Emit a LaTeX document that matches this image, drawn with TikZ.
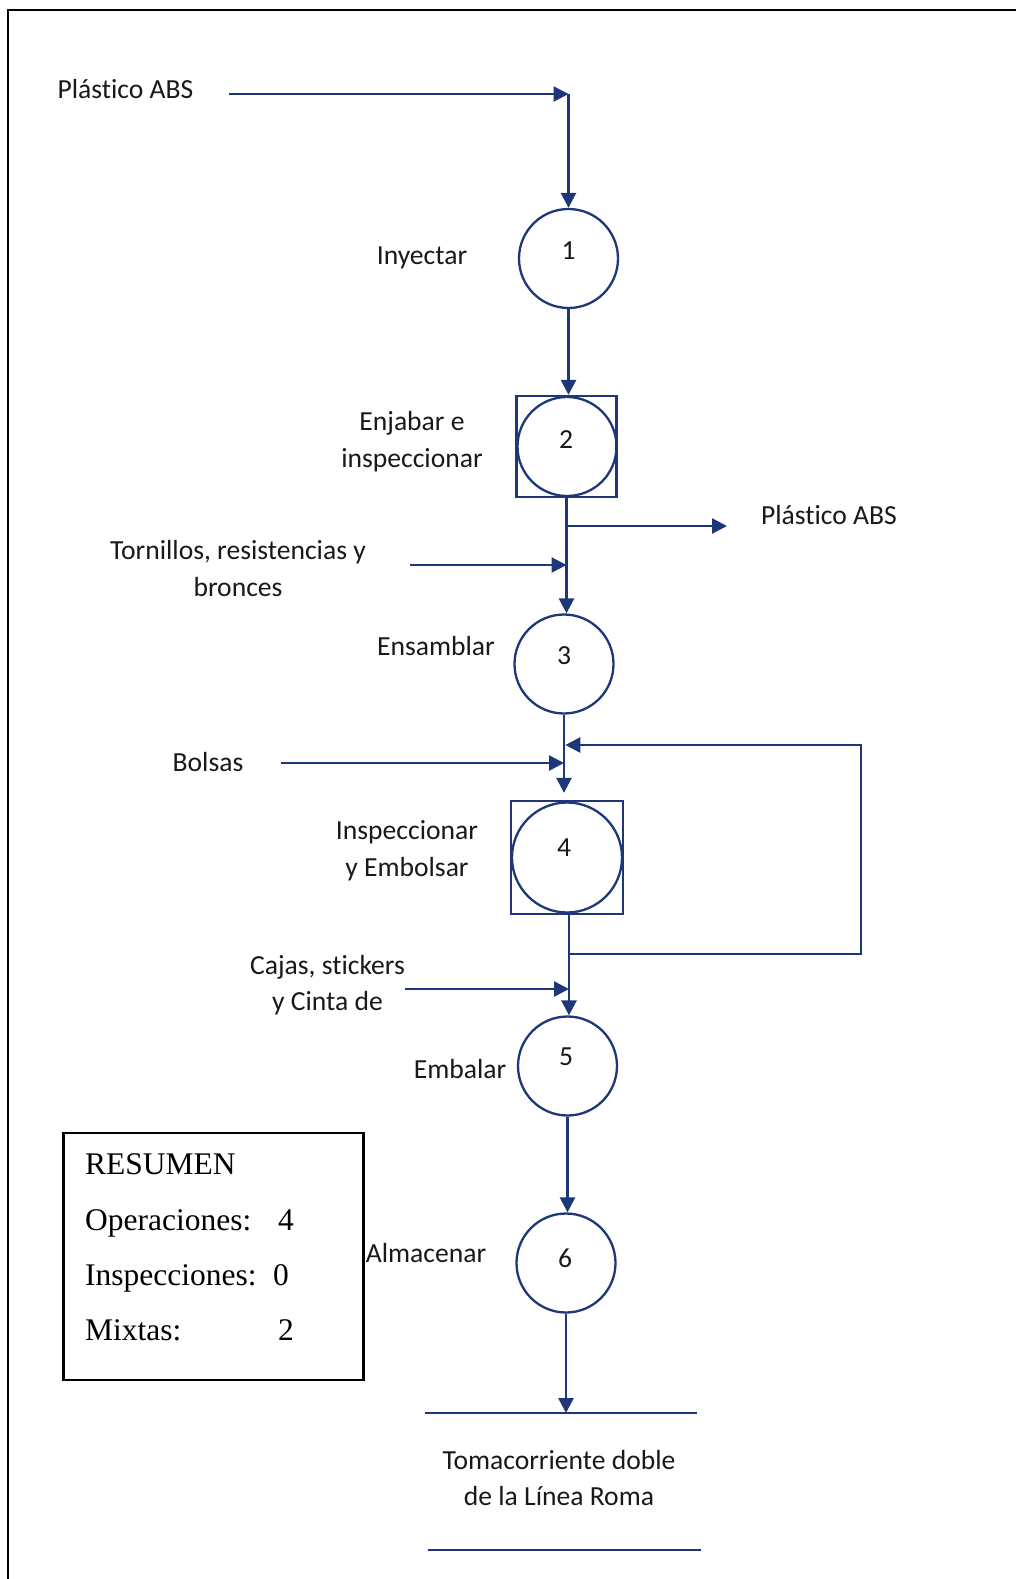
\documentclass[tikz,border=0pt]{standalone}
\usepackage{fontspec}
\setmainfont{Carlito}[Ligatures=NoCommon]
\newfontfamily\tnr{Liberation Serif}
\usetikzlibrary{arrows.meta}
\definecolor{flow}{RGB}{30,55,120}
\definecolor{ink}{RGB}{25,25,25}
\begin{document}
\begin{tikzpicture}[x=1pt,y=-1pt,
  flowline/.style={draw=flow,line width=2.6pt},
  arr/.style={flowline,-{Triangle[length=15pt,width=15pt]}},
  op/.style={circle,draw=flow,line width=2.3pt,minimum size=99pt,inner sep=0pt},
  sqbox/.style={rectangle,draw=flow,line width=2.3pt,inner sep=0pt},
  lbl/.style={font=\fontsize{27.6}{36.5}\selectfont,text=ink,inner sep=0pt,align=center},
  num/.style={lbl},
  summ/.style={font=\tnr\fontsize{31.5}{36}\selectfont,text=black,inner sep=0pt,anchor=base west}]
\useasboundingbox (0,0) rectangle (1016,1579);
\fill[white] (0,0) rectangle (1016,1579);
\draw[black,line width=2.5pt] (8,1579) -- (8,10) -- (1016,10);

% operation symbols
\node[op] (c1) at (568.5,258.5) {};
\node[num] (n1) at (568.5,251) {1};
\node[sqbox,minimum width=100pt,minimum height=101pt] (s2) at (566.5,446.5) {};
\node[op] (c2) at (567,446.5) {};
\node[num] (n2) at (566,440) {2};
\node[op] (c3) at (564,664) {};
\node[num] (n3) at (564,656) {3};
\node[sqbox,minimum width=112pt,minimum height=113pt] (s4) at (567,857.5) {};
\node[op,minimum size=110pt] (c4) at (567,857.5) {};
\node[num] (n4) at (564,848) {4};
\node[op] (c5) at (567.5,1066) {};
\node[num] (n5) at (566,1057) {5};
\node[op] (c6) at (566,1263) {};
\node[num] (n6) at (565,1258) {6};

% labels
\node[lbl] (pa1) at (125.5,89) {Plástico ABS};
\node[lbl] (l1) at (422,258) {Inyectar};
\node[lbl] (l2) at (412,441.5) {Enjabar e\\inspeccionar};
\node[lbl] (pa2) at (829,515) {Plástico ABS};
\node[lbl] (tor) at (238,568.5) {Tornillos, resistencias y\\bronces};
\node[lbl] (l3) at (436,646) {Ensamblar};
\node[lbl] (bol) at (208,762) {Bolsas};
\node[lbl] (l4) at (407,850.5) {Inspeccionar\\y Embolsar};
\node[lbl] (caj) at (327.5,985) {Cajas, stickers\\y Cinta de};
\node[lbl] (l5) at (460,1069) {Embalar};
\node[lbl] (l6) at (426,1253) {Almacenar};
\node[lbl] (fin) at (559,1478) {Tomacorriente doble\\de la Línea Roma};

% coordinates of free ends
\coordinate (a1s) at (229,94);
\coordinate (k1) at (568.5,94);
\coordinate (br) at (566.5,526);
\coordinate (bre) at (727,526);
\coordinate (ts) at (410,565);
\coordinate (bs) at (281,763);
\coordinate (fb1) at (569,954);
\coordinate (fbR1) at (861,954);
\coordinate (fbR2) at (861,745);
\coordinate (cs) at (405,989);
\coordinate (e1a) at (425,1413);
\coordinate (e1b) at (697,1413);
\coordinate (e2a) at (428,1550);
\coordinate (e2b) at (701,1550);

% connectors
\draw[arr] (a1s) -- (k1);
\draw[arr] (k1) -- (c1.north);
\draw[arr] (c1.south) -- (c1.south |- s2.north);
\draw[arr] (s2.south) -- (s2.south |- c3.north);
\draw[arr] (br) -- (bre);
\draw[arr] (ts) -- (ts -| s2.south);
\draw[arr,shorten >=7pt] (c3.south) -- (c3.south |- s4.north);
\draw[arr] (bs) -- (bs -| c3.south);
\draw[arr,shorten >=1.3pt] (fb1) -- (fbR1) -- (fbR2) -- (fbR2 -| c3.south);
\draw[arr] (fb1 |- s4.south) -- (fb1 |- c5.north);
\draw[arr] (cs) -- (cs -| fb1);
\draw[arr] (c5.south) -- (c5.south |- c6.north);
\draw[arr] (c6.south) -- (c6.south |- e1a);
\draw[flowline] (e1a) -- (e1b);
\draw[flowline] (e2a) -- (e2b);

% summary
\node[draw=black,line width=2.2pt,minimum width=300pt,minimum height=247pt,inner sep=0pt] (sum) at (213.5,1256.5) {};
\node[summ] (t0) at (85,1174) {RESUMEN};
\node[summ] (t1) at (85,1230) {Operaciones:};
\node[summ] (v1) at (278,1230) {4};
\node[summ] (t2) at (85,1285) {Inspecciones:};
\node[summ] (v2) at (273,1285) {0};
\node[summ] (t3) at (85,1340) {Mixtas:};
\node[summ] (v3) at (278,1340) {2};
\end{tikzpicture}
\end{document}
